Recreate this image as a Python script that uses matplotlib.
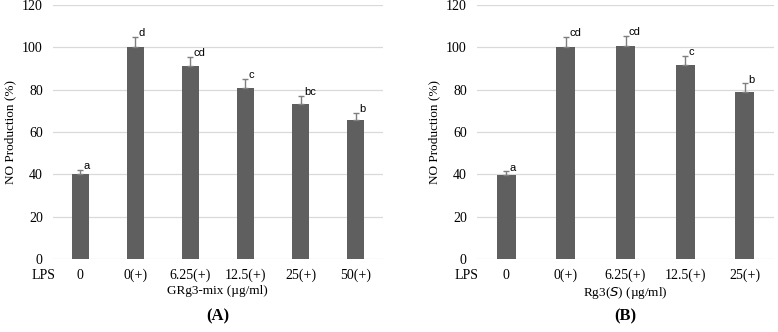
import matplotlib
matplotlib.use("Agg")
import matplotlib.pyplot as plt
import matplotlib.transforms as mtransforms

# panel A: GRg3-mix
labels_a = ["0", "0(+)", "6.25(+)", "12.5(+)", "25(+)", "50(+)"]
values_a = [40, 100, 91, 81, 73, 65.5]
errors_a = [2, 5, 4.5, 4, 4, 3.5]
letters_a = ["a", "d", "cd", "c", "bc", "b"]

# panel B: Rg3(S)
labels_b = ["0", "0(+)", "6.25(+)", "12.5(+)", "25(+)"]
values_b = [39.5, 100, 100.5, 91.5, 79]
errors_b = [2, 5, 5, 4.5, 4]
letters_b = ["a", "cd", "cd", "c", "b"]

bar_color = "#5f5f5f"
err_color = "#7f7f7f"
grid_color = "#d9d9d9"
serif = "Liberation Serif"
sans = "Liberation Sans"

fig = plt.figure(figsize=(7.78, 3.32), dpi=100)
ax_a = fig.add_axes([0.0675, 0.22, 0.425, 0.765])
ax_b = fig.add_axes([0.6125, 0.22, 0.383, 0.765])


def draw_panel(ax, labels, values, errors, letters, xlabel, tag, width):
    x = list(range(len(labels)))
    ax.bar(x, values, width=width, color=bar_color, zorder=2)
    ax.errorbar(x, values, yerr=[[0] * len(errors), errors], fmt="none",
                ecolor=err_color, elinewidth=1.0, capsize=2, capthick=1.0, zorder=3)
    for i, (v, e, l) in enumerate(zip(values, errors, letters)):
        ax.annotate(l, (i, v + e), xytext=(2.5, -1), textcoords="offset points",
                    ha="left", va="bottom", fontsize=8, family=sans)
    ax.set_ylim(0, 120)
    ax.set_yticks(range(0, 121, 20))
    ax.set_xlim(-0.5, len(labels) - 0.5)
    ax.set_xticks(x)
    ax.set_xticklabels(labels)
    ax.grid(axis="y", color=grid_color, linewidth=0.9, zorder=0)
    ax.set_axisbelow(True)
    for s in ax.spines.values():
        s.set_visible(False)
    ax.tick_params(length=0, labelsize=10)
    ax.tick_params(axis="x", pad=7)
    ax.tick_params(axis="y", pad=7)
    for t in ax.get_xticklabels() + ax.get_yticklabels():
        t.set_family(serif)
    ax.set_ylabel("NO Production (%)", family=serif, fontsize=9.5, labelpad=4)
    ax.set_xlabel(xlabel, family=serif, fontsize=9.5, labelpad=2)
    trans = mtransforms.blended_transform_factory(ax.transData, ax.transAxes)
    ax.text(-0.66, -0.066, "LPS", transform=trans, ha="center", va="center",
            family=serif, fontsize=10)
    ax.text(0.5, -0.228, tag, transform=ax.transAxes, ha="center", va="center",
            family=serif, fontsize=12, fontweight="bold")


draw_panel(ax_a, labels_a, values_a, errors_a, letters_a,
           "GRg3-mix (\u00b5g/ml)", "(A)", 0.31)
draw_panel(ax_b, labels_b, values_b, errors_b, letters_b,
           "Rg3($\\mathit{S}$) (\u00b5g/ml)", "(B)", 0.32)

fig.savefig("out.png", dpi=100)
